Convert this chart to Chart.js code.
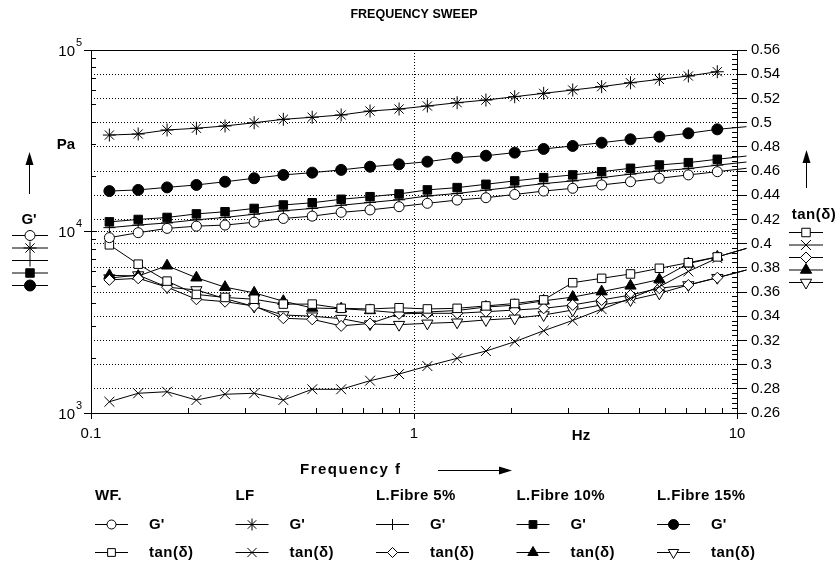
<!DOCTYPE html>
<html>
<head>
<meta charset="utf-8">
<title>Frequency sweep</title>
<script src="https://cdn.jsdelivr.net/npm/chart.js@4.4.1/dist/chart.umd.min.js"></script>
<style>
  body { margin: 0; background: #fff; }
  canvas { display: block; }
</style>
</head>
<body>
<canvas id="sweep" width="839" height="571"></canvas>
<script>
// measuring points of the sweep, Hz
var freq = [0.114, 0.140, 0.172, 0.212, 0.260, 0.320, 0.394, 0.484, 0.595, 0.731, 0.899,
            1.10, 1.36, 1.67, 2.05, 2.52, 3.10, 3.81, 4.68, 5.75, 7.07, 8.69, 10.7];

// G' (Pa) per sample
var gWF  = [9250, 9850, 10400, 10700, 10850, 11250, 11800, 12150, 12750, 13150, 13700,
            14300, 14900, 15350, 16000, 16700, 17300, 18050, 18800, 19650, 20500, 21350, 22300];
var gLF  = [34000, 34450, 36250, 37050, 38150, 39750, 41500, 42600, 43850, 46100, 47300,
            49150, 51250, 53000, 55300, 57700, 60200, 62800, 66000, 68900, 71900, 75900];
var g5   = [10500, 10850, 11150, 11600, 11950, 12450, 13000, 13400, 13950, 14450, 14950,
            15700, 16200, 16900, 17600, 18350, 19000, 19800, 20700, 21550, 22200, 23200, 24150];
var g10  = [11300, 11650, 11950, 12500, 12850, 13400, 14000, 14400, 15050, 15550, 16100,
            16950, 17450, 18200, 19000, 19800, 20500, 21350, 22300, 23250, 23950, 25000, 26050];
var g15  = [16700, 16950, 17500, 18050, 18800, 19650, 20500, 21100, 21850, 22750, 23450,
            24250, 25500, 26150, 27200, 28500, 29600, 30850, 32200, 33300, 34750, 36550, 37800];

// tan(delta) per sample
var tWF  = [0.399, 0.383, 0.369, 0.358, 0.3555, 0.354, 0.350, 0.350, 0.3465, 0.346, 0.347,
            0.346, 0.3465, 0.3485, 0.3505, 0.3535, 0.3677, 0.3713, 0.3749, 0.3796, 0.3842, 0.389, 0.396];
var tLF  = [0.2693, 0.2763, 0.2776, 0.2707, 0.2755, 0.2763, 0.2707, 0.2796, 0.2796, 0.2867, 0.2922,
            0.2988, 0.3052, 0.3112, 0.3189, 0.328, 0.3365, 0.3458, 0.3548, 0.3644, 0.377, 0.388];
var t5   = [0.370, 0.3713, 0.3640, 0.354, 0.352, 0.3484, 0.3383, 0.3374, 0.332, 0.334, 0.342,
            0.3424, 0.3424, 0.3437, 0.3451, 0.3465, 0.3493, 0.3534, 0.3575, 0.3631, 0.3658, 0.3718, 0.3782];
var t10  = [0.3738, 0.3732, 0.3817, 0.3718, 0.364, 0.3593, 0.3524, 0.3468, 0.3462, 0.3448, 0.3427,
            0.3435, 0.3447, 0.3476, 0.3491, 0.3527, 0.3558, 0.3603, 0.3651, 0.3703, 0.3835, 0.389, 0.3961];
var t15  = [0.3715, 0.374, 0.364, 0.3617, 0.3545, 0.348, 0.341, 0.340, 0.338, 0.3335, 0.333,
            0.3341, 0.335, 0.3369, 0.3383, 0.341, 0.3451, 0.3493, 0.3534, 0.3589, 0.3658, 0.3718, 0.3782];

var groups = ['WF.', 'LF', 'L.Fibre 5%', 'L.Fibre 10%', 'L.Fibre 15%'];
var freqTicks = [0.1, 1, 10];
var freqLabels = ['0.1', '1', '10'];
var modTicks = [1e3, 1e4, 1e5];
var tanTicks = [0.26, 0.28, 0.30, 0.32, 0.34, 0.36, 0.38, 0.40, 0.42, 0.44, 0.46, 0.48, 0.50, 0.52, 0.54, 0.56];
var tanLabels = ['0.26', '0.28', '0.3', '0.32', '0.34', '0.36', '0.38', '0.4', '0.42', '0.44', '0.46', '0.48', '0.5', '0.52', '0.54', '0.56'];

var FAMILY = "'Liberation Sans', Arial, sans-serif";
var gMarks = [
  { style: 'circle', r: 5, fill: '#fff', rot: 0 },
  { style: 'star', r: 6.5, fill: '#000', rot: 0 },
  { style: 'cross', r: 6, fill: '#000', rot: 0 },
  { style: 'rect', r: 6, fill: '#000', rot: 0 },
  { style: 'circle', r: 5.5, fill: '#000', rot: 0 }
];
var tMarks = [
  { style: 'rect', r: 6, fill: '#fff', rot: 0 },
  { style: 'crossRot', r: 7, fill: '#000', rot: 0 },
  { style: 'rectRot', r: 5.5, fill: '#fff', rot: 0 },
  { style: 'triangle', r: 6.5, fill: '#000', rot: 0 },
  { style: 'triangle', r: 6.5, fill: '#fff', rot: 180 }
];

function pts(arr) {
  return arr.map(function (v, i) { return { x: freq[i], y: v }; });
}

function ds(label, arr, axis, m) {
  return {
    label: label, data: pts(arr), yAxisID: axis,
    borderColor: '#000', borderWidth: 1, backgroundColor: m.fill,
    pointStyle: m.style, pointRadius: m.r, pointRotation: m.rot,
    pointBackgroundColor: m.fill, pointBorderColor: '#000', pointBorderWidth: 1,
    fill: false, tension: 0, clip: false
  };
}

var gData = [gWF, gLF, g5, g10, g15];
var tData = [tWF, tLF, t5, t10, t15];
var datasets = [];
groups.forEach(function (g, i) {
  datasets.push(ds(g + " G'", gData[i], 'y', gMarks[i]));
  datasets.push(ds(g + ' tan(δ)', tData[i], 'y2', tMarks[i]));
});

function seg(ctx, x1, y1, x2, y2) {
  ctx.beginPath(); ctx.moveTo(x1, y1); ctx.lineTo(x2, y2); ctx.stroke();
}
function px(v) { return Math.round(v - 0.5) + 0.5; }

function arrow(ctx, x1, y1, x2, y2) {
  var a = Math.atan2(y2 - y1, x2 - x1), L = 13, W = 4;
  var bx = x2 - L * Math.cos(a), by = y2 - L * Math.sin(a);
  seg(ctx, x1, y1, bx, by);
  ctx.beginPath();
  ctx.moveTo(x2, y2);
  ctx.lineTo(bx + W * Math.sin(a), by - W * Math.cos(a));
  ctx.lineTo(bx - W * Math.sin(a), by + W * Math.cos(a));
  ctx.closePath(); ctx.fill();
}

function sample(ctx, x1, x2, y, m) {
  ctx.strokeStyle = '#000'; ctx.lineWidth = 1;
  seg(ctx, x1, y + 0.5, x2, y + 0.5);
  ctx.fillStyle = m.fill;
  Chart.helpers.drawPoint(ctx, { pointStyle: m.style, radius: m.r, rotation: m.rot, borderWidth: 1 }, (x1 + x2) / 2, y + 0.5);
  ctx.fillStyle = '#000';
}

function text(ctx, s, x, y, font, align, spacing) {
  ctx.font = font; ctx.textAlign = align || 'left'; ctx.textBaseline = 'middle';
  ctx.letterSpacing = spacing || '0px';
  ctx.fillText(s, x, y);
  ctx.letterSpacing = '0px';
}

var decor = {
  id: 'decor',
  afterDraw: function (chart) {
    var ctx = chart.ctx, a = chart.chartArea;
    var sx = chart.scales.x, sy = chart.scales.y, st = chart.scales.y2;
    var bold = 'bold 15px ' + FAMILY;
    ctx.save();
    ctx.strokeStyle = '#000'; ctx.fillStyle = '#000'; ctx.lineWidth = 1;

    // frame top
    seg(ctx, a.left, px(a.top), a.right, px(a.top));

    // inner minor ticks on the frequency axis
    [0.1, 1].forEach(function (d) {
      for (var k = 2; k < 10; k++) {
        var p = px(sx.getPixelForValue(k * d));
        seg(ctx, p, a.bottom, p, a.bottom - 5);
      }
    });

    // G' axis: minor ticks, major ticks and labels with exponent
    [1e3, 1e4].forEach(function (d) {
      for (var k = 2; k < 10; k++) {
        var p = px(sy.getPixelForValue(k * d));
        seg(ctx, a.left, p, a.left + 5, p);
      }
    });
    modTicks.forEach(function (v) {
      var p = px(sy.getPixelForValue(v));
      seg(ctx, a.left - 7, p, a.left + 6, p);
      text(ctx, '10', 75, p + 1, '15px ' + FAMILY, 'right');
      text(ctx, String(Math.round(Math.log10(v))), 76, p - 8, '11px ' + FAMILY, 'left');
    });

    // tan axis: inner minor ticks
    for (var i = 0; i <= 75; i++) {
      if (i % 5 === 0) continue;
      var p = px(st.getPixelForValue(0.26 + i * 0.004));
      seg(ctx, a.right - 5, p, a.right, p);
    }

    // title and axis titles
    text(ctx, 'FREQUENCY SWEEP', (a.left + a.right) / 2, 15, 'bold 12.5px ' + FAMILY, 'center');
    text(ctx, 'Hz', 581, 436, bold, 'center');
    text(ctx, 'Frequency f', 300, 470, bold, 'left', '1.5px');
    arrow(ctx, 438, 470.5, 512, 470.5);

    // left side key
    text(ctx, 'Pa', 66, 145, bold, 'center');
    arrow(ctx, 29.5, 194, 29.5, 152);
    text(ctx, "G'", 29, 220, bold, 'center');
    gMarks.forEach(function (m, j) { sample(ctx, 12, 48, 235 + j * 12.5, m); });

    // right side key
    arrow(ctx, 806.5, 188, 806.5, 150);
    text(ctx, 'tan(δ)', 814, 215, bold, 'center', '0.5px');
    tMarks.forEach(function (m, j) { sample(ctx, 789, 823, 232 + j * 12.5, m); });

    // bottom key
    groups.forEach(function (g, j) {
      var x = 95 + j * 140.5;
      text(ctx, g, x, 496, bold, 'left', '0.4px');
      sample(ctx, x, x + 33, 524, { style: gMarks[j].style, r: gMarks[j].r - 0.5, fill: gMarks[j].fill, rot: gMarks[j].rot });
      text(ctx, "G'", x + 54, 525, bold, 'left');
      sample(ctx, x, x + 33, 552, { style: tMarks[j].style, r: tMarks[j].r - 0.5, fill: tMarks[j].fill, rot: tMarks[j].rot });
      text(ctx, 'tan(δ)', x + 54, 553, bold, 'left', '0.5px');
    });
    ctx.restore();
  }
};

var clear = 'rgba(0,0,0,0)';

new Chart(document.getElementById('sweep'), {
  type: 'line',
  data: { datasets: datasets },
  plugins: [decor],
  options: {
    responsive: false,
    animation: false,
    events: [],
    layout: { padding: { top: 50, left: 0, right: 0, bottom: 0 } },
    plugins: { legend: { display: false }, tooltip: { enabled: false } },
    scales: {
      x: {
        type: 'logarithmic', position: 'bottom', min: 0.1, max: 10,
        afterBuildTicks: function (s) { s.ticks = freqTicks.map(function (v) { return { value: v }; }); },
        afterFit: function (s) { s.height = 158; },
        border: { display: true, color: '#000', width: 1, dash: [1, 2] },
        grid: {
          color: function (c) { return c.tick && c.tick.value === 1 ? '#000' : clear; },
          tickColor: '#000', tickLength: 6, tickBorderDash: []
        },
        ticks: {
          autoSkip: false, maxRotation: 0, padding: 6, color: '#000',
          font: { family: FAMILY, size: 15 },
          callback: function (v) { return freqLabels[freqTicks.indexOf(v)]; }
        }
      },
      y: {
        type: 'logarithmic', position: 'left', min: 1e3, max: 1e5,
        afterBuildTicks: function (s) { s.ticks = modTicks.map(function (v) { return { value: v }; }); },
        afterFit: function (s) { s.width = 91; },
        border: { display: true, color: '#000', width: 1, dash: [1, 2] },
        grid: {
          color: function (c) { return c.tick && c.tick.value === 1e4 ? '#000' : clear; },
          drawTicks: false
        },
        ticks: { display: false }
      },
      y2: {
        type: 'linear', position: 'right', min: 0.26, max: 0.56,
        afterBuildTicks: function (s) { s.ticks = tanTicks.map(function (v) { return { value: v }; }); },
        afterFit: function (s) { s.width = 102; },
        border: { display: true, color: '#000', width: 1, dash: [1, 2] },
        grid: { color: '#000', tickColor: '#000', tickLength: 10, tickBorderDash: [] },
        ticks: {
          padding: 4, color: '#000', font: { family: FAMILY, size: 15 },
          callback: function (v) { return tanLabels[tanTicks.indexOf(v)]; }
        }
      }
    }
  }
});
</script>
</body>
</html>
